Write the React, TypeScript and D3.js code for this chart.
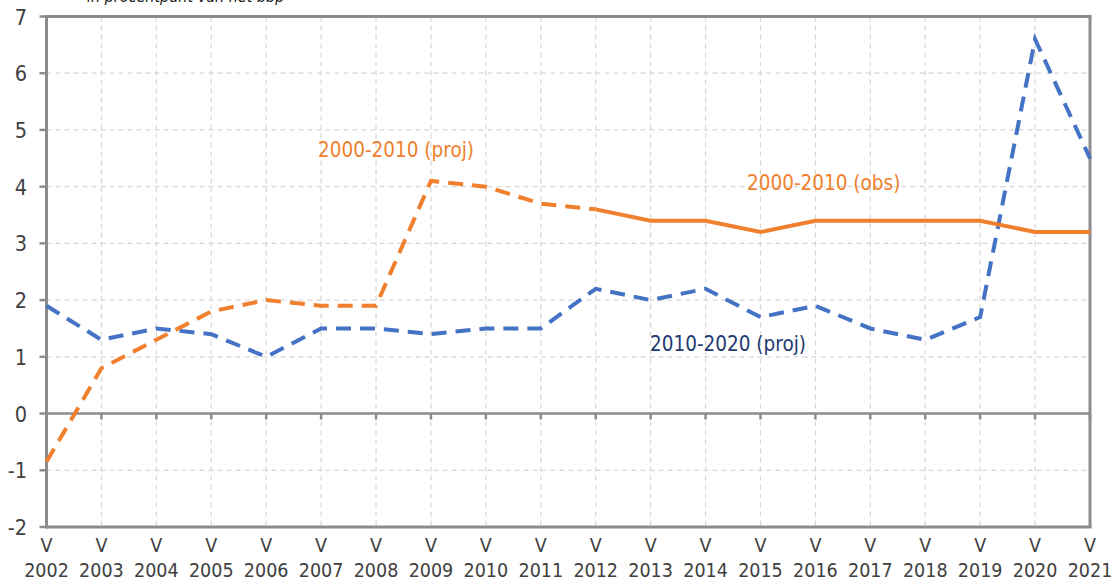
import React from "react";
import * as d3 from "d3";

const years = [2002, 2003, 2004, 2005, 2006, 2007, 2008, 2009, 2010, 2011, 2012, 2013, 2014, 2015, 2016, 2017, 2018, 2019, 2020, 2021];
const projOld = [-0.85, 0.8, 1.3, 1.8, 2.0, 1.9, 1.9, 4.1, 4.0, 3.7, 3.6];
const obsOldYears = [2012, 2013, 2014, 2015, 2016, 2017, 2018, 2019, 2020, 2021];
const obsOld = [3.6, 3.4, 3.4, 3.2, 3.4, 3.4, 3.4, 3.4, 3.2, 3.2];
const projNew = [1.9, 1.3, 1.5, 1.4, 1.0, 1.5, 1.5, 1.4, 1.5, 1.5, 2.2, 2.0, 2.2, 1.7, 1.9, 1.5, 1.3, 1.7, 6.6, 4.5];
const yTicks = [-2, -1, 0, 1, 2, 3, 4, 5, 6, 7];

const FONT = "'DejaVu Sans Condensed', 'DejaVu Sans', sans-serif";

export default function App() {
  const W = 1115, H = 585;
  const x = d3.scaleLinear().domain([2002, 2021]).range([46.5, 1090]);
  const y = d3.scaleLinear().domain([-2, 7]).range([527, 16.5]);
  const line = d3.line<[number, number]>().x(d => x(d[0])).y(d => y(d[1]));

  const projOldPts: [number, number][] = projOld.map((v, i) => [years[i], v]);
  const obsOldPts: [number, number][] = obsOld.map((v, i) => [obsOldYears[i], v]);
  const projNewPts: [number, number][] = projNew.map((v, i) => [years[i], v]);

  const gray = "#8c8c8c";
  const orange = "#F07F2E";
  const blue = "#4472C4";
  const navy = "#1F3A70";

  return (
    <svg width={W} height={H} style={{ position: "absolute", left: 0, top: 0, background: "#fff" }} fontFamily={FONT}>
      <rect width={W} height={H} fill="#fff" />
      {/* title fragment */}
      <text x={87} y={2} fontSize={16} fontStyle="italic" fill="#222">in procentpunt van het bbp</text>
      {/* grid */}
      {years.slice(1, -1).map(yr => (
        <line key={"vg" + yr} x1={x(yr)} x2={x(yr)} y1={y(7)} y2={y(-2)} stroke="#d6d6d6" strokeWidth={1.2} strokeDasharray="5,4" />
      ))}
      {yTicks.filter(t => t !== 0 && t !== -2 && t !== 7).map(t => (
        <line key={"hg" + t} x1={x(2002)} x2={x(2021)} y1={y(t)} y2={y(t)} stroke="#d6d6d6" strokeWidth={1.2} strokeDasharray="5,4" />
      ))}
      {/* borders */}
      <line x1={x(2002)} x2={x(2021) + 1.5} y1={y(7)} y2={y(7)} stroke={gray} strokeWidth={3} />
      <line x1={x(2002)} x2={x(2021) + 1.5} y1={y(-2)} y2={y(-2)} stroke={gray} strokeWidth={3} />
      <line x1={x(2021)} x2={x(2021)} y1={y(7)} y2={y(-2)} stroke={gray} strokeWidth={3} />
      <line x1={x(2002)} x2={x(2021)} y1={y(0)} y2={y(0)} stroke={gray} strokeWidth={2.5} />
      {years.map(yr => (
        <line key={"zt" + yr} x1={x(yr)} x2={x(yr)} y1={y(0)} y2={y(0) + 6} stroke={gray} strokeWidth={2.5} />
      ))}
      <line x1={x(2002)} x2={x(2002)} y1={y(7) - 1.5} y2={y(-2) + 1.5} stroke={gray} strokeWidth={3} />
      {yTicks.map(t => (
        <line key={"yt" + t} x1={x(2002) - 7} x2={x(2002)} y1={y(t)} y2={y(t)} stroke={gray} strokeWidth={2.5} />
      ))}
      {/* y labels */}
      {yTicks.map(t => (
        <text key={"yl" + t} x={27} y={y(t) + 8} fontSize={21.5} textAnchor="end" fill="#404040">{t}</text>
      ))}
      {/* x labels */}
      {years.map(yr => (
        <g key={"xl" + yr}>
          <text x={x(yr)} y={552} fontSize={19.5} textAnchor="middle" fill="#404040">V</text>
          <text x={x(yr)} y={577} fontSize={19.5} textAnchor="middle" fill="#404040">{yr}</text>
        </g>
      ))}
      {/* series */}
      <path d={line(projNewPts) || ""} fill="none" stroke={blue} strokeWidth={4} strokeDasharray="15,9" />
      <path d={line(projOldPts) || ""} fill="none" stroke={orange} strokeWidth={4} strokeDasharray="15,9" />
      <path d={line(obsOldPts) || ""} fill="none" stroke={orange} strokeWidth={4} />
      {/* labels */}
      <text x={318} y={157} fontSize={20.5} fill={orange}>2000-2010 (proj)</text>
      <text x={747} y={190} fontSize={20.5} fill={orange}>2000-2010 (obs)</text>
      <text x={650} y={351} fontSize={20.5} fill={navy}>2010-2020 (proj)</text>
    </svg>
  );
}
